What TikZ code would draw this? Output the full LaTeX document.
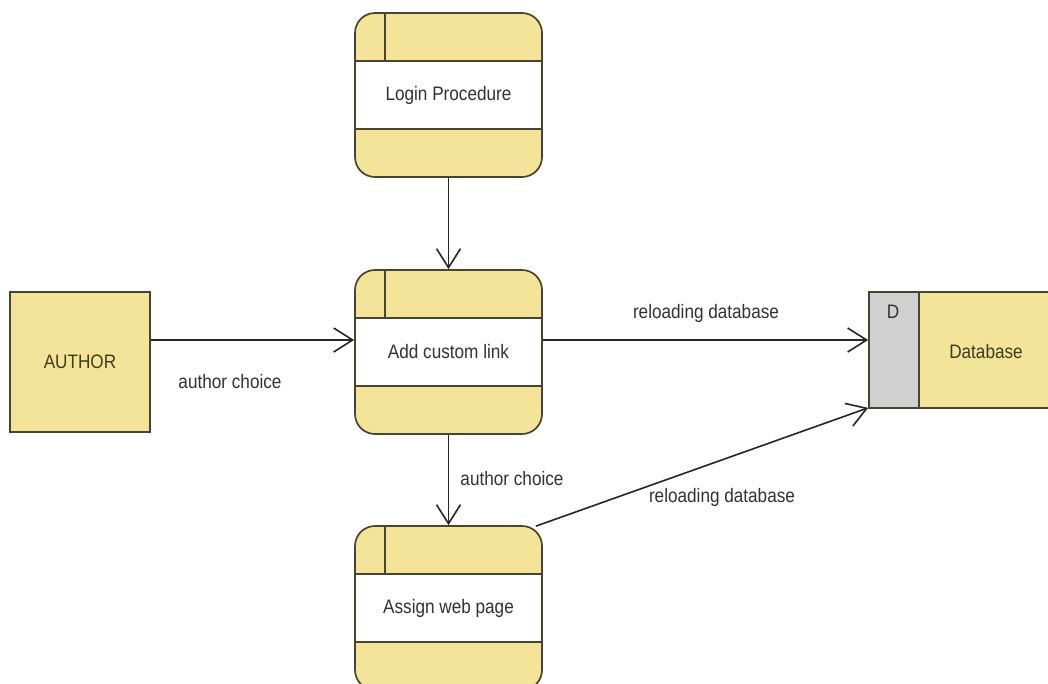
\documentclass[tikz,border=0pt]{standalone}
\usepackage{fontspec}
\setmainfont{Liberation Sans}[FakeStretch=0.88]
\usetikzlibrary{arrows.meta,calc}
\definecolor{dfdyel}{RGB}{243,228,154}
\definecolor{dfdline}{RGB}{72,68,48}
\definecolor{dfdgray}{RGB}{208,208,208}
\definecolor{dfdtext}{RGB}{50,50,50}
\definecolor{dfdolive}{RGB}{66,60,26}
\begin{document}
\begin{tikzpicture}[x=1pt,y=-1pt,
  txt/.style={font=\fontsize{19.5}{22}\selectfont,text=dfdtext,inner sep=0pt},
  proc/.style={draw=dfdline,line width=1.7pt,fill=dfdyel,rounded corners=20pt,
    minimum width=187pt,minimum height=164pt,inner sep=0pt,
    font=\fontsize{19.5}{22}\selectfont,text=dfdtext,
    path picture={
      \fill[white,sharp corners] ($(path picture bounding box.west)+(0,-34)$) rectangle ($(path picture bounding box.east)+(0,34)$);
      \draw[dfdline,line width=1.7pt,sharp corners] ($(path picture bounding box.west)+(-5,-34)$) -- ($(path picture bounding box.east)+(5,-34)$);
      \draw[dfdline,line width=1.7pt,sharp corners] ($(path picture bounding box.west)+(-5,34)$) -- ($(path picture bounding box.east)+(5,34)$);
      \draw[dfdline,line width=1.7pt,sharp corners] ($(path picture bounding box.north west)+(30,-5)$) -- ($(path picture bounding box.west)+(30,-34)$);
    }},
  ent/.style={draw=dfdline,line width=1.7pt,fill=dfdyel,minimum width=140pt,minimum height=140pt,
    inner sep=0pt,font=\fontsize{19.5}{22}\selectfont,text=dfdolive},
  store/.style={draw=dfdline,line width=1.7pt,fill=dfdyel,minimum width=190pt,minimum height=116pt,
    inner sep=0pt,
    path picture={
      \fill[dfdgray] (path picture bounding box.north west) rectangle ($(path picture bounding box.south west)+(50,0)$);
      \draw[dfdline,line width=1.7pt] ($(path picture bounding box.north west)+(50,-5)$) -- ($(path picture bounding box.south west)+(50,5)$);
    }},
  flow/.style={draw=black!85,line width=1.6pt,-{Straight Barb[length=19pt,width=24pt,line width=1.6pt]}}
]
\clip (0,0) rectangle (1048,683);
\useasboundingbox (0,0) rectangle (1048,683);
\fill[white] (0,0) rectangle (1048,683);

\node[proc] (lp) at (448.5,95) {Login Procedure};
\node[proc] (ac) at (448.5,352) {Add custom link};
\node[proc] (aw) at (448.5,608) {Assign web page};
\node[ent] (au) at (80,362) {AUTHOR};
\node[store] (db) at (964,350) {};
\node[txt,text=dfdolive] (dbt) at (986,352) {Database};
\node[txt] (dbd) at (893,312) {D};

\draw[flow] (lp.south) -- (ac.north);
\draw[flow] ([yshift=22pt]au.east) -- ([yshift=22pt]au.east -| ac.west);
\draw[flow] ([yshift=12pt]ac.east) -- ([yshift=12pt]ac.east -| db.west);
\draw[flow] (ac.south) -- (aw.north);
\draw[flow] ([xshift=-7pt,yshift=-1pt]aw.north east) -- ([yshift=1pt]db.south west);

\node[txt] (l1) at (230,382) {author choice};
\node[txt] (l2) at (706,313) {reloading database};
\node[txt] (l3) at (512,479) {author choice};
\node[txt] (l4) at (722,497) {reloading database};
\end{tikzpicture}
\end{document}
